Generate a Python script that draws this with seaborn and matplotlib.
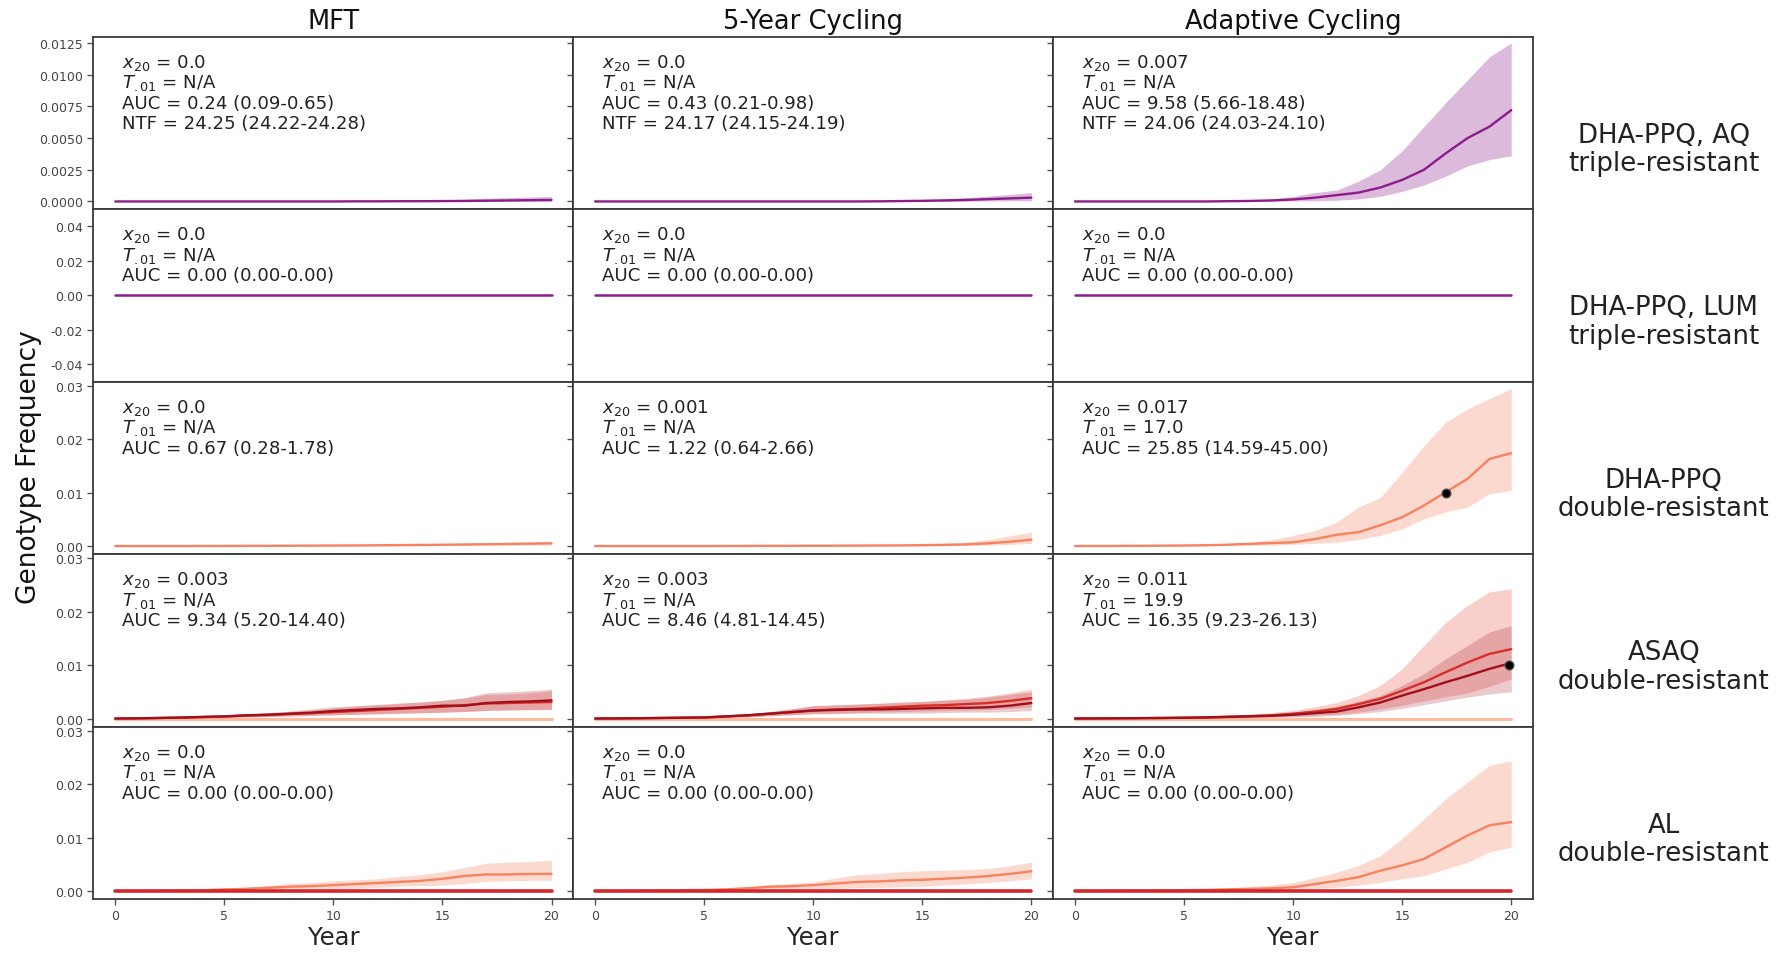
import matplotlib
matplotlib.use("Agg")
import matplotlib.pyplot as plt
import seaborn as sns
from matplotlib.ticker import FormatStrFormatter, MultipleLocator

sns.set_style("ticks")
plt.rcParams["font.family"] = ["DejaVu Sans"]

# ---------------- data ----------------
YEARS = [0, 1, 2, 3, 4, 5, 6, 7, 8, 9, 10, 11, 12, 13, 14, 15, 16, 17, 18, 19, 20]

COLUMNS = ["MFT", "5-Year Cycling", "Adaptive Cycling"]
ROWS = ["DHA-PPQ, AQ\ntriple-resistant", "DHA-PPQ, LUM\ntriple-resistant",
        "DHA-PPQ\ndouble-resistant", "ASAQ\ndouble-resistant", "AL\ndouble-resistant"]

ZERO = [0, 0, 0, 0, 0, 0, 0, 0, 0, 0, 0, 0, 0, 0, 0, 0, 0, 0, 0, 0, 0]

# Row 0: DHA-PPQ, AQ triple-resistant (purple)
AQ3_MFT_MED = [0, 0, 0, 0, 0, 0, 0, 0, 0, 0, 0, 0.00001, 0.00001, 0.00002, 0.00002, 0.00003, 0.00004, 0.00006, 0.00008, 0.0001, 0.00012]
AQ3_MFT_LO = [0, 0, 0, 0, 0, 0, 0, 0, 0, 0, 0, 0, 0, 0, 0, 0, 0, 0, 0.00001, 0.00001, 0.00001]
AQ3_MFT_HI = [0, 0, 0, 0, 0, 0, 0, 0, 0, 0, 0.00001, 0.00002, 0.00003, 0.00005, 0.00008, 0.00012, 0.00018, 0.00025, 0.0003, 0.00035, 0.0004]
AQ3_5Y_MED = [0, 0, 0, 0, 0, 0, 0, 0, 0, 0, 0, 0, 0, 0.00001, 0.00003, 0.00005, 0.00008, 0.00012, 0.00018, 0.00024, 0.0003]
AQ3_5Y_LO = [0, 0, 0, 0, 0, 0, 0, 0, 0, 0, 0, 0, 0, 0, 0, 0, 0.00001, 0.00002, 0.00004, 0.00005, 0.00006]
AQ3_5Y_HI = [0, 0, 0, 0, 0, 0, 0, 0, 0, 0, 0, 0.00002, 0.00004, 0.00007, 0.0001, 0.00015, 0.00022, 0.0003, 0.00042, 0.00055, 0.0007]
AQ3_AD_MED = [0, 0, 0, 0, 0, 0, 0, 0.00002, 0.00004, 0.00008, 0.00016, 0.0003, 0.0005, 0.0007, 0.0011, 0.0017, 0.0025, 0.0038, 0.005, 0.0059, 0.0072]
AQ3_AD_LO = [0, 0, 0, 0, 0, 0, 0, 0, 0, 0.00002, 0.00004, 0.00005, 0.0001, 0.0002, 0.0004, 0.0008, 0.0013, 0.002, 0.0028, 0.0033, 0.0036]
AQ3_AD_HI = [0, 0, 0, 0, 0, 0, 0.00002, 0.00005, 0.0001, 0.0002, 0.0004, 0.0007, 0.0009, 0.0016, 0.0025, 0.004, 0.0059, 0.0078, 0.0096, 0.0114, 0.0125]

# Row 1: DHA-PPQ, LUM triple-resistant (purple, all zero)
LUM3_MED = [0, 0, 0, 0, 0, 0, 0, 0, 0, 0, 0, 0, 0, 0, 0, 0, 0, 0, 0, 0, 0]

# Row 2: DHA-PPQ double-resistant (salmon)
PPQ2_MFT_MED = [0, 0, 0, 0, 0.00001, 0.00002, 0.00003, 0.00004, 0.00005, 0.00007, 0.00009, 0.00011, 0.00014, 0.00017, 0.0002, 0.00024, 0.00028, 0.00033, 0.00038, 0.00044, 0.0005]
PPQ2_MFT_LO = [0, 0, 0, 0, 0, 0.00001, 0.00001, 0.00002, 0.00002, 0.00003, 0.00004, 0.00005, 0.00006, 0.00007, 0.00008, 0.0001, 0.00012, 0.00014, 0.00016, 0.00018, 0.0002]
PPQ2_MFT_HI = [0, 0, 0, 0.00001, 0.00002, 0.00004, 0.00006, 0.00008, 0.0001, 0.00013, 0.00017, 0.00021, 0.00026, 0.00031, 0.00037, 0.00044, 0.00052, 0.0006, 0.00068, 0.00077, 0.0009]
PPQ2_5Y_MED = [0, 0, 0, 0, 0, 0, 0.00001, 0.00002, 0.00003, 0.00004, 0.00005, 0.00006, 0.00008, 0.0001, 0.00012, 0.00016, 0.00022, 0.0003, 0.0005, 0.0008, 0.0012]
PPQ2_5Y_LO = [0, 0, 0, 0, 0, 0, 0, 0, 0.00001, 0.00001, 0.00002, 0.00002, 0.00003, 0.00003, 0.00004, 0.00005, 0.00008, 0.0001, 0.00015, 0.0003, 0.0005]
PPQ2_5Y_HI = [0, 0, 0, 0, 0, 0.00001, 0.00003, 0.00005, 0.00007, 0.00009, 0.00011, 0.00014, 0.00018, 0.00022, 0.00028, 0.00036, 0.00048, 0.0007, 0.0012, 0.0019, 0.0026]
PPQ2_AD_MED = [0, 0.00001, 0.00002, 0.00004, 0.00006, 0.0001, 0.00015, 0.00025, 0.0004, 0.00055, 0.0007, 0.0013, 0.0021, 0.0026, 0.0039, 0.0054, 0.0076, 0.0101, 0.0126, 0.0163, 0.0174]
PPQ2_AD_LO = [0, 0, 0, 0, 0.00001, 0.00003, 0.00005, 0.0001, 0.00015, 0.0002, 0.0003, 0.0005, 0.0007, 0.0012, 0.002, 0.0032, 0.0051, 0.0064, 0.0073, 0.0098, 0.0104]
PPQ2_AD_HI = [0, 0.00003, 0.00006, 0.0001, 0.00015, 0.0002, 0.0003, 0.00045, 0.0007, 0.0012, 0.002, 0.0029, 0.0045, 0.0073, 0.0091, 0.0138, 0.0188, 0.0232, 0.0257, 0.0276, 0.0295]

# Row 3: ASAQ double-resistant (dark red + red genotypes, salmon at zero)
ASAQ_MFT_DARK_MED = [0, 0.00003, 0.0001, 0.00018, 0.0003, 0.0004, 0.0006, 0.0007, 0.0009, 0.0011, 0.0014, 0.0016, 0.0018, 0.0019, 0.0021, 0.0024, 0.0024, 0.0029, 0.0031, 0.0032, 0.0034]
ASAQ_MFT_DARK_LO = [0, 0.00001, 0.00004, 0.00008, 0.00014, 0.0002, 0.0003, 0.00038, 0.00048, 0.0006, 0.0007, 0.0008, 0.0009, 0.001, 0.0011, 0.0012, 0.0013, 0.0015, 0.0016, 0.0017, 0.0017]
ASAQ_MFT_DARK_HI = [0, 0.00006, 0.00016, 0.0003, 0.00045, 0.0006, 0.0009, 0.0011, 0.0014, 0.0018, 0.0022, 0.0024, 0.0026, 0.0029, 0.0031, 0.0034, 0.0039, 0.0048, 0.005, 0.0052, 0.0055]
ASAQ_MFT_RED_MED = [0, 0.00003, 0.0001, 0.00017, 0.00028, 0.00038, 0.00055, 0.00068, 0.00085, 0.001, 0.0012, 0.0014, 0.0016, 0.0018, 0.002, 0.0022, 0.0025, 0.0028, 0.0029, 0.003, 0.0031]
ASAQ_MFT_RED_LO = [0, 0.00001, 0.00004, 0.00008, 0.00013, 0.00018, 0.00027, 0.00035, 0.00045, 0.00055, 0.00065, 0.00075, 0.00085, 0.00095, 0.00105, 0.00115, 0.0013, 0.0015, 0.0016, 0.0016, 0.0017]
ASAQ_MFT_RED_HI = [0, 0.00005, 0.00015, 0.00028, 0.00043, 0.00058, 0.00085, 0.00105, 0.0013, 0.0016, 0.002, 0.0023, 0.0026, 0.0028, 0.0031, 0.0034, 0.0038, 0.0045, 0.0046, 0.0048, 0.0052]

ASAQ_5Y_DARK_MED = [0, 0.00002, 0.00005, 0.0001, 0.00015, 0.0002, 0.0004, 0.0006, 0.0009, 0.0012, 0.0015, 0.0016, 0.0017, 0.0017, 0.0018, 0.0019, 0.002, 0.002, 0.0021, 0.0024, 0.0029]
ASAQ_5Y_DARK_LO = [0, 0.00001, 0.00002, 0.00004, 0.00006, 0.0001, 0.0002, 0.0003, 0.0005, 0.0007, 0.0009, 0.0009, 0.001, 0.001, 0.001, 0.001, 0.0011, 0.0012, 0.0012, 0.0013, 0.0015]
ASAQ_5Y_DARK_HI = [0, 0.00004, 0.0001, 0.00017, 0.00025, 0.0003, 0.0006, 0.0009, 0.0013, 0.0018, 0.0024, 0.0025, 0.0027, 0.0028, 0.003, 0.0032, 0.0034, 0.0036, 0.004, 0.0045, 0.005]
ASAQ_5Y_RED_MED = [0, 0.00002, 0.00005, 0.0001, 0.00015, 0.0002, 0.0004, 0.0006, 0.0009, 0.0012, 0.0015, 0.0017, 0.0018, 0.002, 0.0022, 0.0024, 0.0025, 0.0027, 0.0029, 0.0033, 0.0038]
ASAQ_5Y_RED_LO = [0, 0.00001, 0.00002, 0.00004, 0.00006, 0.0001, 0.0002, 0.0003, 0.0005, 0.0007, 0.0009, 0.001, 0.0011, 0.0012, 0.0013, 0.0014, 0.0015, 0.0016, 0.0017, 0.0019, 0.0022]
ASAQ_5Y_RED_HI = [0, 0.00004, 0.0001, 0.00017, 0.00025, 0.0003, 0.0006, 0.0009, 0.0013, 0.0018, 0.0024, 0.0026, 0.0027, 0.0029, 0.0031, 0.0032, 0.0035, 0.0038, 0.0042, 0.0048, 0.0055]

ASAQ_AD_DARK_MED = [0, 0.00002, 0.00004, 0.00007, 0.0001, 0.00014, 0.0002, 0.0003, 0.0004, 0.0005, 0.0007, 0.001, 0.0013, 0.0021, 0.003, 0.0043, 0.0055, 0.0068, 0.008, 0.0093, 0.0104]
ASAQ_AD_DARK_LO = [0, 0, 0.00001, 0.00002, 0.00004, 0.00006, 0.0001, 0.00014, 0.0002, 0.00026, 0.0003, 0.0004, 0.0006, 0.0009, 0.0013, 0.0019, 0.0026, 0.0033, 0.004, 0.0046, 0.005]
ASAQ_AD_DARK_HI = [0, 0.00004, 0.00008, 0.00013, 0.0002, 0.00026, 0.00035, 0.0005, 0.0007, 0.0009, 0.0012, 0.0017, 0.0023, 0.0032, 0.0043, 0.0062, 0.0084, 0.0112, 0.0137, 0.0162, 0.0174]
ASAQ_AD_RED_MED = [0, 0.00002, 0.00004, 0.00007, 0.0001, 0.00015, 0.00022, 0.00033, 0.00045, 0.0006, 0.0009, 0.0013, 0.0018, 0.0027, 0.0037, 0.0052, 0.0068, 0.0087, 0.0105, 0.0121, 0.013]
ASAQ_AD_RED_LO = [0, 0, 0.00001, 0.00002, 0.00004, 0.00006, 0.0001, 0.00015, 0.00022, 0.0003, 0.0004, 0.0006, 0.0008, 0.0012, 0.0018, 0.0025, 0.0033, 0.0041, 0.0048, 0.006, 0.0074]
ASAQ_AD_RED_HI = [0, 0.00004, 0.00008, 0.00013, 0.0002, 0.00027, 0.0004, 0.0006, 0.0008, 0.0011, 0.0015, 0.0022, 0.003, 0.0043, 0.0062, 0.0093, 0.0137, 0.018, 0.0212, 0.0237, 0.0243]

# Row 4: AL double-resistant (salmon rising, red at zero)
AL_MFT_MED = [0, 0.00002, 0.00005, 0.0001, 0.00015, 0.0003, 0.0004, 0.0006, 0.0008, 0.0009, 0.0011, 0.0013, 0.0015, 0.0017, 0.0019, 0.0023, 0.0028, 0.0031, 0.0031, 0.0032, 0.0032]
AL_MFT_LO = [0, 0, 0.00001, 0.00003, 0.00006, 0.0001, 0.00015, 0.0002, 0.00025, 0.0003, 0.0003, 0.0005, 0.0007, 0.0009, 0.001, 0.0011, 0.0014, 0.0018, 0.0019, 0.002, 0.002]
AL_MFT_HI = [0, 0.00004, 0.0001, 0.0002, 0.0003, 0.0005, 0.0007, 0.001, 0.0014, 0.0016, 0.0019, 0.0021, 0.0023, 0.0027, 0.0031, 0.0036, 0.0044, 0.0052, 0.0054, 0.0055, 0.0058]
AL_5Y_MED = [0, 0.00002, 0.00005, 0.0001, 0.00015, 0.0002, 0.0003, 0.0005, 0.0008, 0.0009, 0.0011, 0.0014, 0.0017, 0.0018, 0.002, 0.0021, 0.0023, 0.0025, 0.0028, 0.0032, 0.0037]
AL_5Y_LO = [0, 0, 0.00001, 0.00003, 0.00005, 0.00007, 0.0001, 0.0002, 0.0003, 0.0004, 0.0004, 0.0005, 0.0006, 0.0007, 0.0008, 0.0009, 0.0011, 0.0013, 0.0016, 0.0019, 0.0023]
AL_5Y_HI = [0, 0.00004, 0.0001, 0.0002, 0.0003, 0.0004, 0.0006, 0.0009, 0.0012, 0.0014, 0.0017, 0.0024, 0.003, 0.0033, 0.0036, 0.0038, 0.0039, 0.004, 0.0042, 0.0047, 0.0054]
AL_AD_MED = [0, 0.00002, 0.00004, 0.00007, 0.0001, 0.00015, 0.0002, 0.0003, 0.0004, 0.0005, 0.0007, 0.0013, 0.0019, 0.0026, 0.0038, 0.0048, 0.006, 0.0082, 0.0104, 0.0123, 0.0129]
AL_AD_LO = [0, 0, 0.00001, 0.00002, 0.00003, 0.00005, 0.00007, 0.0001, 0.00015, 0.0002, 0.0003, 0.0005, 0.0007, 0.0011, 0.0016, 0.0023, 0.0029, 0.0041, 0.0054, 0.0073, 0.0082]
AL_AD_HI = [0, 0.00004, 0.00008, 0.00014, 0.0002, 0.0003, 0.0004, 0.0006, 0.0008, 0.0011, 0.0016, 0.0025, 0.0035, 0.0048, 0.0066, 0.0098, 0.0135, 0.0173, 0.0204, 0.0235, 0.0244]

# Annotation values (rows x strategies)
X20_AQ3 = ["0.0", "0.0", "0.007"]
X20_LUM3 = ["0.0", "0.0", "0.0"]
X20_PPQ2 = ["0.0", "0.001", "0.017"]
X20_ASAQ = ["0.003", "0.003", "0.011"]
X20_AL = ["0.0", "0.0", "0.0"]
T01_AQ3 = ["N/A", "N/A", "N/A"]
T01_LUM3 = ["N/A", "N/A", "N/A"]
T01_PPQ2 = ["N/A", "N/A", "17.0"]
T01_ASAQ = ["N/A", "N/A", "19.9"]
T01_AL = ["N/A", "N/A", "N/A"]
AUC_AQ3 = ["0.24 (0.09-0.65)", "0.43 (0.21-0.98)", "9.58 (5.66-18.48)"]
AUC_LUM3 = ["0.00 (0.00-0.00)", "0.00 (0.00-0.00)", "0.00 (0.00-0.00)"]
AUC_PPQ2 = ["0.67 (0.28-1.78)", "1.22 (0.64-2.66)", "25.85 (14.59-45.00)"]
AUC_ASAQ = ["9.34 (5.20-14.40)", "8.46 (4.81-14.45)", "16.35 (9.23-26.13)"]
AUC_AL = ["0.00 (0.00-0.00)", "0.00 (0.00-0.00)", "0.00 (0.00-0.00)"]
NTF_AQ3 = ["24.25 (24.22-24.28)", "24.17 (24.15-24.19)", "24.06 (24.03-24.10)"]
THRESHOLD = 0.01

# ---------------- styles ----------------
PURPLE = "#8c1c8c"
SALMON = "#f7825f"
SALMON_ZERO = "#fdbb9c"
RED = "#e8372b"
DARK = "#a0101c"
RED_ZERO = "#d3262e"

fig = plt.figure(figsize=(17.87, 9.54), dpi=100)
axes = fig.subplots(5, 3, sharex=True, gridspec_kw=dict(hspace=0, wspace=0))
fig.subplots_adjust(left=0.0523, right=0.8579, top=0.9606, bottom=0.0566)


def band(ax, med, lo, hi, color, lw=1.7, zorder=3, alpha=0.32):
    ax.fill_between(YEARS, lo, hi, color=color, alpha=alpha, lw=0, zorder=zorder - 1)
    sns.lineplot(x=YEARS, y=med, ax=ax, color=color, lw=lw, zorder=zorder)


def zero_line(ax, color, lw=2.6, zorder=2):
    sns.lineplot(x=YEARS, y=ZERO, ax=ax, color=color, lw=lw, zorder=zorder)


aq3 = [(AQ3_MFT_MED, AQ3_MFT_LO, AQ3_MFT_HI), (AQ3_5Y_MED, AQ3_5Y_LO, AQ3_5Y_HI), (AQ3_AD_MED, AQ3_AD_LO, AQ3_AD_HI)]
ppq2 = [(PPQ2_MFT_MED, PPQ2_MFT_LO, PPQ2_MFT_HI), (PPQ2_5Y_MED, PPQ2_5Y_LO, PPQ2_5Y_HI), (PPQ2_AD_MED, PPQ2_AD_LO, PPQ2_AD_HI)]
asaq_dark = [(ASAQ_MFT_DARK_MED, ASAQ_MFT_DARK_LO, ASAQ_MFT_DARK_HI), (ASAQ_5Y_DARK_MED, ASAQ_5Y_DARK_LO, ASAQ_5Y_DARK_HI), (ASAQ_AD_DARK_MED, ASAQ_AD_DARK_LO, ASAQ_AD_DARK_HI)]
asaq_red = [(ASAQ_MFT_RED_MED, ASAQ_MFT_RED_LO, ASAQ_MFT_RED_HI), (ASAQ_5Y_RED_MED, ASAQ_5Y_RED_LO, ASAQ_5Y_RED_HI), (ASAQ_AD_RED_MED, ASAQ_AD_RED_LO, ASAQ_AD_RED_HI)]
al = [(AL_MFT_MED, AL_MFT_LO, AL_MFT_HI), (AL_5Y_MED, AL_5Y_LO, AL_5Y_HI), (AL_AD_MED, AL_AD_LO, AL_AD_HI)]

x20_rows = [X20_AQ3, X20_LUM3, X20_PPQ2, X20_ASAQ, X20_AL]
t01_rows = [T01_AQ3, T01_LUM3, T01_PPQ2, T01_ASAQ, T01_AL]
auc_rows = [AUC_AQ3, AUC_LUM3, AUC_PPQ2, AUC_ASAQ, AUC_AL]

for c in range(3):
    band(axes[0, c], *aq3[c], PURPLE, alpha=0.3)
    sns.lineplot(x=YEARS, y=LUM3_MED, ax=axes[1, c], color=PURPLE, lw=1.8)
    band(axes[2, c], *ppq2[c], SALMON, alpha=0.3)
    zero_line(axes[3, c], SALMON_ZERO, lw=2.2, zorder=1)
    band(axes[3, c], *asaq_red[c], RED, zorder=4, alpha=0.24)
    band(axes[3, c], *asaq_dark[c], DARK, zorder=5, alpha=0.22)
    band(axes[4, c], *al[c], SALMON, zorder=3, alpha=0.3)
    zero_line(axes[4, c], RED_ZERO, lw=2.6, zorder=6)

# threshold crossing markers
for r, t_row in enumerate(t01_rows):
    for c, t in enumerate(t_row):
        if t != "N/A":
            axes[r, c].scatter([float(t)], [THRESHOLD], s=38, color="black",
                               edgecolor="#444444", zorder=10)

# ---------------- axes formatting ----------------
row_ylims = [(-0.0006, 0.0130), (-0.05, 0.05), (-0.0015, 0.0308), (-0.0015, 0.0308), (-0.0015, 0.0308)]
for r in range(5):
    for c in range(3):
        ax = axes[r, c]
        ax.set_xlim(-1, 21)
        ax.set_ylim(*row_ylims[r])
        ax.set_xlabel("")
        ax.set_ylabel("")
        for s in ax.spines.values():
            s.set_visible(True)
            s.set_color("#3a3a3a")
            s.set_linewidth(1.3)
        ax.xaxis.set_major_locator(MultipleLocator(5))
        if r == 0:
            ax.yaxis.set_major_locator(MultipleLocator(0.0025))
            ax.yaxis.set_major_formatter(FormatStrFormatter("%.4f"))
        elif r == 1:
            ax.set_yticks([-0.04, -0.02, 0.0, 0.02, 0.04])
            ax.yaxis.set_major_formatter(FormatStrFormatter("%.2f"))
        else:
            ax.set_yticks([0.0, 0.01, 0.02, 0.03])
            ax.yaxis.set_major_formatter(FormatStrFormatter("%.2f"))
        ax.tick_params(axis="both", which="major", length=4, width=1, color="#555555",
                       labelsize=9, labelcolor="#444444", direction="out")
        if c > 0:
            ax.tick_params(labelleft=False)
        if r < 4:
            ax.tick_params(labelbottom=False)
        else:
            ax.set_xlabel("Year", fontsize=17.5, labelpad=2)

        lines = [r"$x_{20}$ = " + x20_rows[r][c],
                 r"$T_{.01}$ = " + t01_rows[r][c],
                 "AUC = " + auc_rows[r][c]]
        if r == 0:
            lines.append("NTF = " + NTF_AQ3[c])
        for i, txt in enumerate(lines):
            ax.text(0.059, 0.855 - i * 0.119, txt, transform=ax.transAxes,
                    fontsize=13.1, color="#222222", va="center", ha="left", zorder=20)

for c, title in enumerate(COLUMNS):
    axes[0, c].set_title(title, fontsize=18.5, pad=6, color="#111111")

for r, lab in enumerate(ROWS):
    bb = axes[r, 2].get_position()
    fig.text(0.931, (bb.y0 + bb.y1) / 2 - 0.0275, lab, ha="center", va="center",
             fontsize=18.7, color="#222222", linespacing=1.13)

fig.text(0.016, 0.51, "Genotype Frequency", rotation=90, ha="center", va="center",
         fontsize=19, color="#111111")

fig.savefig("out.png", dpi=100)
